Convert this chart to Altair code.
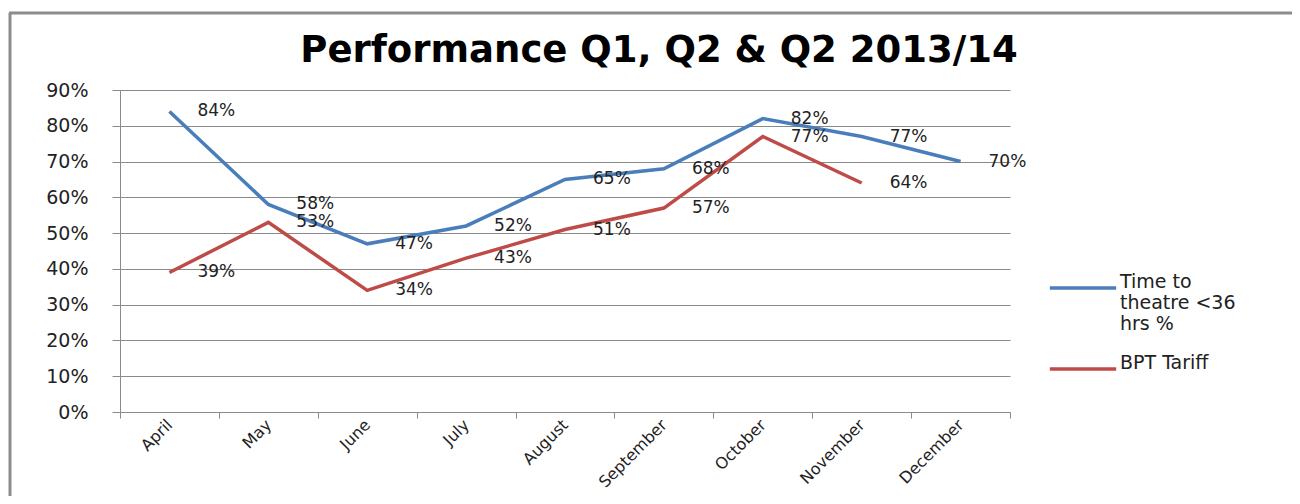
import altair as alt
import pandas as pd

months = ["April", "May", "June", "July", "August", "September", "October", "November", "December"]
time_to_theatre = [84, 58, 47, 52, 65, 68, 82, 77, 70]
bpt_tariff = [39, 53, 34, 43, 51, 57, 77, 64, None]
series_names = ["Time to theatre <36 hrs %", "BPT Tariff"]
series_colors = ["#4A7EBB", "#BE4B48"]
y_ticks = [0, 0.1, 0.2, 0.3, 0.4, 0.5, 0.6, 0.7, 0.8, 0.9]
title_text = "Performance Q1, Q2 & Q2 2013/14"

rows = []
for name, vals in zip(series_names, [time_to_theatre, bpt_tariff]):
    for m, v in zip(months, vals):
        if v is not None:
            rows.append({"month": m, "series": name, "value": v / 100, "label": f"{v}%"})
df = pd.DataFrame(rows)

FONT = "DejaVu Sans"
GRID = "#8a8a8a"
TXT = "#222222"

x_enc = alt.X(
    "month:N",
    sort=months,
    bandPosition=0.5,
    scale=alt.Scale(type="band", domain=months, paddingInner=0, paddingOuter=0),
    axis=alt.Axis(
        title=None, labelAngle=315, tickBand="extent", labelAlign="right", labelBaseline="middle",
        labelFontSize=16, labelFont=FONT, labelColor=TXT, domainColor=GRID,
        tickColor=GRID, tickSize=6, labelPadding=4, grid=False, labelOverlap=False,
    ),
)
y_enc = alt.Y(
    "value:Q",
    scale=alt.Scale(domain=[0, 0.9], nice=False),
    axis=alt.Axis(
        title=None, format=".0%", values=y_ticks, grid=True, gridColor=GRID, gridWidth=1,
        domainColor=GRID, tickColor=GRID, tickSize=8, labelPadding=24, labelFontSize=19,
        labelFont=FONT, labelColor=TXT, labelOverlap=False, labelFlush=False,
    ),
)
color_enc = alt.Color(
    "series:N",
    sort=series_names,
    scale=alt.Scale(domain=series_names, range=series_colors),
    legend=alt.Legend(
        title=None, orient="none", legendX=928, legendY=163, symbolType="stroke",
        symbolSize=4400, symbolStrokeWidth=3.5, labelFontSize=19, labelFont=FONT,
        labelColor=TXT, labelBaseline="alphabetic", labelOffset=2, padding=0,
        rowPadding=0, labelLimit=300,
        labelExpr="datum.label == 'Time to theatre <36 hrs %' ? ['Time to', 'theatre <36', 'hrs %'] : datum.label",
    ),
)

base = alt.Chart(df)
lines = base.mark_line(strokeWidth=3.5).encode(x=x_enc, y=y_enc, color=color_enc)
labels = base.mark_text(align="left", baseline="middle", dx=28, fontSize=17, font=FONT, color=TXT).encode(
    x=x_enc, y=y_enc, text="label:N"
)

frame_src = alt.Chart(pd.DataFrame({"f": [0]}))
frame_left = frame_src.mark_rule(stroke="#8c8c8c", strokeWidth=3).encode(
    x=alt.value(-110), y=alt.value(-77), y2=alt.value(600)
)
frame_top = frame_src.mark_rule(stroke="#8c8c8c", strokeWidth=3).encode(
    x=alt.value(-111), x2=alt.value(1400), y=alt.value(-77)
)

chart = alt.layer(frame_left, frame_top, lines, labels).properties(
    width=890,
    height=322,
    title=alt.TitleParams(text=title_text, font=FONT, fontSize=37, fontWeight="bold", color="#000000",
                          anchor="middle", frame="group", dx=94, offset=0, dy=58),
    autosize=alt.AutoSizeParams(type="none"),
    padding={"left": 112, "top": 82, "right": 282, "bottom": 84},
    background="white",
).configure_view(stroke=None)

chart.save("out.html", embed_options={"renderer": "svg", "actions": False})
